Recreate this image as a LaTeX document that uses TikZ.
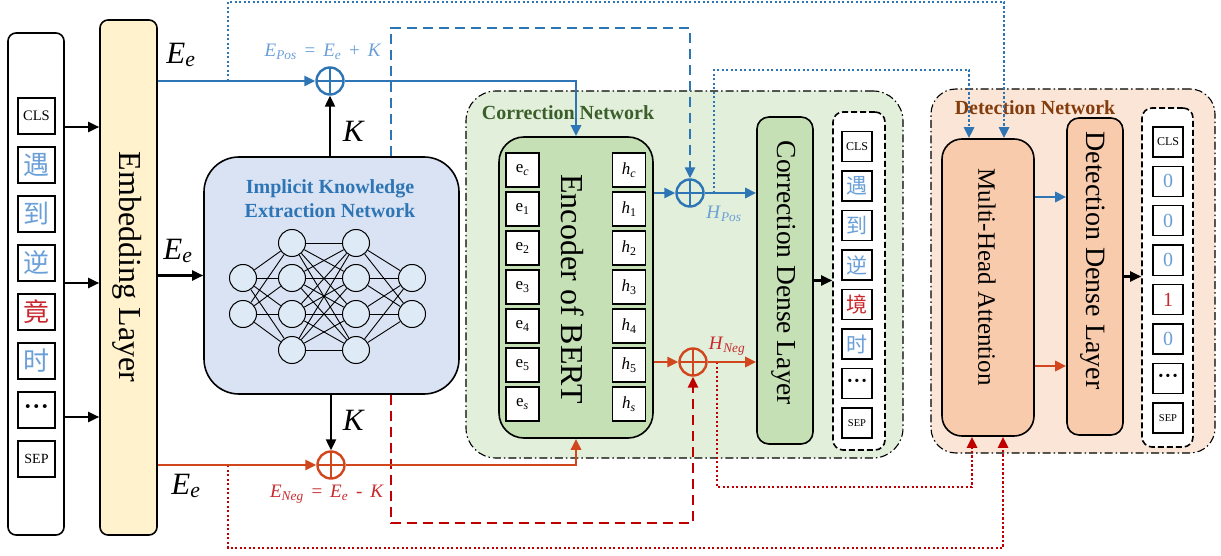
\documentclass[tikz,border=0pt]{standalone}
\usepackage{fontspec}
\setmainfont{Liberation Serif}
\newfontfamily\cjk{Noto Sans CJK SC}
\usetikzlibrary{arrows.meta}
\newcommand\myfs[1]{\fontsize{#1}{#1}\selectfont}
\definecolor{cblue}{HTML}{2E75B6}
\definecolor{clight}{HTML}{6A9FD8}
\definecolor{cred}{HTML}{D2461E}
\definecolor{cdred}{HTML}{C00000}
\definecolor{clred}{HTML}{C8282D}
\definecolor{embfill}{HTML}{FFF2CC}
\definecolor{ikenfill}{HTML}{DAE3F3}
\definecolor{nnfill}{HTML}{DEEBF7}
\definecolor{corrbg}{HTML}{E2EFDA}
\definecolor{encfill}{HTML}{C5E0B4}
\definecolor{corrtxt}{HTML}{3B5E2B}
\definecolor{detbg}{HTML}{FBE5D6}
\definecolor{mhafill}{HTML}{F8CBAD}
\definecolor{dettxt}{HTML}{843C0C}
\begin{document}
\begin{tikzpicture}[x=1pt,y=-1pt,
  blk/.style={draw, line width=1.6pt, inner sep=0pt},
  netbox/.style={draw, line width=1.1pt, dash pattern=on 8pt off 3pt on 1.5pt off 3pt},
  outbox/.style={draw, line width=1.6pt, dash pattern=on 6pt off 3pt, fill=white, rounded corners=10pt},
  tok/.style={draw, line width=1.4pt, fill=white, minimum width=37pt, minimum height=36pt, inner sep=0pt},
  otok/.style={draw, line width=1.4pt, fill=white, minimum width=30pt, minimum height=30pt, inner sep=0pt},
  etok/.style={draw, line width=1.4pt, fill=white, minimum width=33pt, minimum height=34pt, inner sep=0pt, font=\myfs{17}},
  nn/.style={circle, draw, line width=1pt, fill=nnfill, minimum size=27pt, inner sep=0pt},
  nnline/.style={line width=0.9pt},
  arr/.style={-{Triangle[length=11pt,width=10pt]}},
  blkline/.style={line width=2.2pt, draw=black},
  bline/.style={line width=2.6pt, draw=cblue},
  rline/.style={line width=2.6pt, draw=cred},
  bdash/.style={line width=2.6pt, draw=cblue, dash pattern=on 10pt off 6pt},
  rdash/.style={line width=2.6pt, draw=cdred, dash pattern=on 10pt off 6pt},
  bdot/.style={line width=2.6pt, draw=cblue, dash pattern=on 2.2pt off 2.3pt},
  rdot/.style={line width=2.6pt, draw=cdred, dash pattern=on 2.2pt off 2.3pt},
  oplus/.style={circle, draw=#1, line width=2.4pt, minimum size=27pt, inner sep=0pt,
    path picture={\draw[#1, line width=2pt] (path picture bounding box.north) -- (path picture bounding box.south) (path picture bounding box.west) -- (path picture bounding box.east);}},
  mlabel/.style={font=\myfs{31}, inner sep=0pt},
  slabel/.style={font=\myfs{19}, inner sep=0pt}
]
\useasboundingbox (0,0) rectangle (1221,556);

% ---- network backgrounds
\node[netbox, fill=corrbg, rounded corners=30pt, minimum width=437pt, minimum height=367pt] (corrnet) at (684.5,274.5) {};
\node[netbox, fill=detbg, rounded corners=25pt, minimum width=284pt, minimum height=364pt] (detnet) at (1073,271) {};
\node[font=\bfseries\myfs{20}, text=corrtxt, inner sep=0pt] (corrlbl) at (568,113) {Correction Network};
\node[font=\bfseries\myfs{20}, text=dettxt, inner sep=0pt] (detlbl) at (1035,108) {Detection Network};

% ---- input column
\node[blk, rounded corners=8pt, minimum width=56pt, minimum height=502pt, fill=white] (inp) at (36,284) {};
\node[tok, font=\myfs{14.5}] (in0) at (36.5,116) {CLS};
\node[tok, font=\cjk\myfs{26}, text=clight] (in1) at (36.5,165) {遇};
\node[tok, font=\cjk\myfs{26}, text=clight] (in2) at (36.5,214) {到};
\node[tok, font=\cjk\myfs{26}, text=clight] (in3) at (36.5,263) {逆};
\node[tok, font=\cjk\myfs{26}, text=clred] (in4) at (36.5,312) {竟};
\node[tok, font=\cjk\myfs{26}, text=clight] (in5) at (36.5,361) {时};
\node[tok, font=\bfseries\myfs{24}] (in6) at (36.5,410) {·\kern0.5pt·\kern0.5pt·};
\node[tok, font=\myfs{14}] (in7) at (36.5,459) {SEP};

% ---- embedding layer
\node[blk, fill=embfill, minimum width=57pt, minimum height=515pt, rounded corners=8pt] (emb) at (128.5,277.5) {};
\node[rotate=-90, font=\myfs{32}, inner sep=0pt] (embtxt) at (127,267) {Embedding Layer};

% ---- implicit knowledge extraction network
\node[blk, fill=ikenfill, rounded corners=35pt, minimum width=255pt, minimum height=237pt] (iken) at (331.5,275.5) {};
\node[font=\bfseries\fontsize{20}{24}\selectfont, text=cblue, align=center, inner sep=0pt] (ikentxt) at (330,199) {Implicit Knowledge\\Extraction Network};
\foreach \y [count=\i] in {278,314} \node[nn] (a\i) at (243,\y) {};
\foreach \y [count=\i] in {243,278,314,350} \node[nn] (b\i) at (292,\y) {};
\foreach \y [count=\i] in {243,278,314,350} \node[nn] (c\i) at (356,\y) {};
\foreach \y [count=\i] in {278,314} \node[nn] (d\i) at (412,\y) {};
\foreach \i in {1,2} \foreach \j in {1,...,4} \draw[nnline] (a\i) -- (b\j);
\foreach \i in {1,...,4} \foreach \j in {1,...,4} \draw[nnline] (b\i) -- (c\j);
\foreach \i in {1,...,4} \foreach \j in {1,2} \draw[nnline] (c\i) -- (d\j);

% ---- encoder of BERT
\node[blk, fill=encfill, rounded corners=25pt, minimum width=154pt, minimum height=301pt] (enc) at (576,287.5) {};
\node[etok] (e0) at (522.5,170) {e\textsubscript{\textit{c}}};
\node[etok] (e1) at (522.5,209) {e\textsubscript{1}};
\node[etok] (e2) at (522.5,248) {e\textsubscript{2}};
\node[etok] (e3) at (522.5,287) {e\textsubscript{3}};
\node[etok] (e4) at (522.5,326) {e\textsubscript{4}};
\node[etok] (e5) at (522.5,365) {e\textsubscript{5}};
\node[etok] (e6) at (522.5,404) {e\textsubscript{\textit{s}}};
\node[etok] (h0) at (629,170) {\textit{h}\textsubscript{\textit{c}}};
\node[etok] (h1) at (629,209) {\textit{h}\textsubscript{1}};
\node[etok] (h2) at (629,248) {\textit{h}\textsubscript{2}};
\node[etok] (h3) at (629,287) {\textit{h}\textsubscript{3}};
\node[etok] (h4) at (629,326) {\textit{h}\textsubscript{4}};
\node[etok] (h5) at (629,365) {\textit{h}\textsubscript{5}};
\node[etok] (h6) at (629,404) {\textit{h}\textsubscript{\textit{s}}};
\node[rotate=-90, font=\myfs{32}, inner sep=0pt] (enctxt) at (573,289) {Encoder of BERT};

% ---- correction dense layer and output
\node[blk, fill=encfill, rounded corners=12pt, minimum width=56pt, minimum height=327pt] (cdl) at (785,280.5) {};
\node[rotate=-90, font=\myfs{27.5}, inner sep=0pt] (cdltxt) at (784,273) {Correction Dense Layer};
\node[outbox, minimum width=52pt, minimum height=338pt] (outc) at (859,281) {};
\node[otok, font=\myfs{12}] (oc0) at (857,146.5) {CLS};
\node[otok, font=\cjk\myfs{21}, text=clight] (oc1) at (857,186) {遇};
\node[otok, font=\cjk\myfs{21}, text=clight] (oc2) at (857,225.5) {到};
\node[otok, font=\cjk\myfs{21}, text=clight] (oc3) at (857,265) {逆};
\node[otok, font=\cjk\myfs{21}, text=clred] (oc4) at (857,304.5) {境};
\node[otok, font=\cjk\myfs{21}, text=clight] (oc5) at (857,344) {时};
\node[otok, font=\bfseries\myfs{20}] (oc6) at (857,383.5) {·\kern0.5pt·\kern0.5pt·};
\node[otok, font=\myfs{10.5}] (oc7) at (857,423) {SEP};

% ---- detection network
\node[blk, fill=mhafill, rounded corners=20pt, minimum width=92pt, minimum height=297pt] (mha) at (988,287.5) {};
\node[rotate=-90, font=\myfs{25}, inner sep=0pt] (mhatxt) at (987,277) {Multi-Head Attention};
\node[blk, fill=mhafill, rounded corners=12pt, minimum width=56pt, minimum height=317pt] (ddl) at (1095,276.5) {};
\node[rotate=-90, font=\myfs{28}, inner sep=0pt] (ddltxt) at (1093,260.5) {Detection Dense Layer};
\node[outbox, minimum width=51pt, minimum height=339pt] (outd) at (1167.5,277.5) {};
\node[otok, font=\myfs{12}] (od0) at (1168,142) {CLS};
\node[otok, font=\myfs{20}, text=clight] (od1) at (1168,181.4) {0};
\node[otok, font=\myfs{20}, text=clight] (od2) at (1168,220.8) {0};
\node[otok, font=\myfs{20}, text=clight] (od3) at (1168,260.2) {0};
\node[otok, font=\myfs{20}, text=clred] (od4) at (1168,299.6) {1};
\node[otok, font=\myfs{20}, text=clight] (od5) at (1168,339) {0};
\node[otok, font=\bfseries\myfs{20}] (od6) at (1168,378.4) {·\kern0.5pt·\kern0.5pt·};
\node[otok, font=\myfs{10.5}] (od7) at (1168,417.8) {SEP};

% ---- operators
\node[oplus=cblue] (pose) at (330,81) {};
\node[oplus=cred] (nege) at (331,465) {};
\node[oplus=cblue] (posh) at (690,193) {};
\node[oplus=cred] (negh) at (693,362) {};

% ---- labels
\node[mlabel] (ee1) at (181,55) {\textit{E}\textsubscript{\textit{e}}};
\node[mlabel] (ee2) at (178,251) {\textit{E}\textsubscript{\textit{e}}};
\node[mlabel] (ee3) at (186,486) {\textit{E}\textsubscript{\textit{e}}};
\node[mlabel] (k1) at (354,131) {\textit{K}};
\node[mlabel] (k2) at (354,420) {\textit{K}};
\node[slabel, text=clight] (eposlbl) at (323,52) {\textit{E}\textsubscript{\textit{Pos}}\,\ =\ \,\textit{E}\textsubscript{\textit{e}}\,\ +\ \,\textit{K}};
\node[slabel, text=clred] (eneglbl) at (327,494) {\textit{E}\textsubscript{\textit{Neg}}\,\ =\ \,\textit{E}\textsubscript{\textit{e}}\,\ -\ \,\textit{K}};
\node[slabel, text=clight] (hposlbl) at (724,214) {\textit{H}\textsubscript{\textit{Pos}}};
\node[slabel, text=clred] (hneglbl) at (727,346) {\textit{H}\textsubscript{\textit{Neg}}};

% ---- route coordinates
\coordinate (ar1) at (0,127);
\coordinate (ar2) at (0,283);
\coordinate (ar3) at (0,417);
\coordinate (j1) at (228,81);
\coordinate (t1) at (1004,2);
\coordinate (j2) at (228,465);
\coordinate (b1) at (1003,548);
\coordinate (s1) at (391,28);
\coordinate (s3) at (391,523);
\coordinate (j3) at (714,193);
\coordinate (d1) at (969,70);
\coordinate (j4) at (717,362);
\coordinate (d2) at (972,487);
\coordinate (m1) at (0,197);
\coordinate (m2) at (0,366);

% ---- black connectors
\foreach \c in {ar1,ar2,ar3} \draw[blkline, arr] (inp.east |- \c) -- (emb.west |- \c);
\draw[blkline, arr] (emb.east |- iken.west) -- (iken.west);
\draw[blkline, arr] (iken.north -| pose) -- (pose.south);
\draw[blkline, arr] (iken.south -| nege) -- (nege.north);
\draw[blkline, arr] (cdl.east) -- (outc.west |- cdl.east);
\draw[blkline, arr] (ddl.east) -- (outd.west |- ddl.east);

% ---- dotted / dashed routes
\draw[bdot, arr] (j1) |- (t1) -- (t1 |- mha.north);
\draw[rdot, arr] (j2) |- (b1) -- (b1 |- mha.south);
\draw[bdash, arr] (s1 |- iken.north) -- (s1) -| (posh.north);
\draw[rdash, arr] (s3 |- iken.south) -- (s3) -| (negh.south);
\draw[bdot, arr] (j3) |- (d1) -- (d1 |- mha.north);
\draw[rdot, arr] (j4) |- (d2) -- (d2 |- mha.south);

% ---- solid colour connectors
\draw[bline, arr] (emb.east |- pose) -- (pose.west);
\draw[bline, arr] (pose.east) -| (enc.north);
\draw[rline, arr] (emb.east |- nege) -- (nege.west);
\draw[rline, arr] (nege.east) -| (enc.south);
\draw[bline, arr] (enc.east |- posh) -- (posh.west);
\draw[bline, arr] (posh.east) -- (cdl.west |- posh);
\draw[rline, arr] (enc.east |- negh) -- (negh.west);
\draw[rline, arr] (negh.east) -- (cdl.west |- negh);
\draw[bline, arr] (mha.east |- m1) -- (ddl.west |- m1);
\draw[rline, arr] (mha.east |- m2) -- (ddl.west |- m2);
\end{tikzpicture}
\end{document}
